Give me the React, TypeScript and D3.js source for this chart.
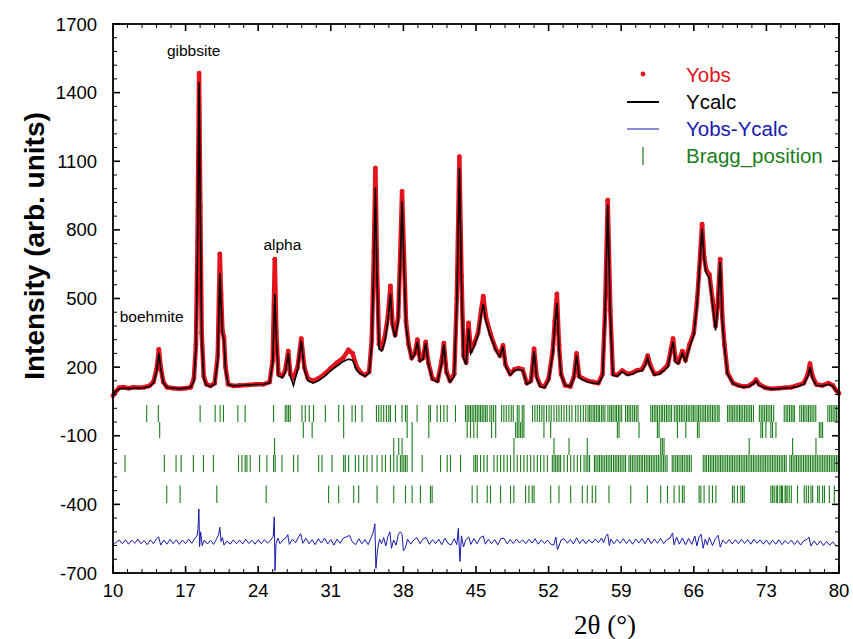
import * as d3 from "d3";
import React from "react";

// Rietveld plot: observed / calculated profile (2theta in degrees, intensity)
const twoTheta = [
  10.0, 10.3, 10.6, 11.0, 11.5, 12.0, 12.5, 13.0, 13.5, 13.9, 14.2, 14.42, 14.6, 14.85, 15.2, 15.8, 16.4, 17.0, 17.5, 17.8,
  18.0, 18.15, 18.3, 18.42, 18.55, 18.75, 19.0, 19.4, 19.8, 20.1, 20.3, 20.42, 20.55, 20.7, 20.85, 21.1, 21.6, 22.2, 23.0, 23.8,
  24.5, 25.1, 25.4, 25.6, 25.75, 25.95, 26.3, 26.6, 26.9, 27.1, 27.4, 27.8, 28.15, 28.45, 28.8, 29.3, 29.8, 30.4, 31.0, 31.6,
  32.2, 32.7, 33.1, 33.5, 33.9, 34.3, 34.7, 34.95, 35.15, 35.3, 35.45, 35.65, 35.9, 36.2, 36.5, 36.75, 36.95, 37.2, 37.5, 37.7,
  37.87, 38.05, 38.25, 38.5, 38.8, 39.1, 39.35, 39.6, 39.9, 40.15, 40.4, 40.8, 41.3, 41.7, 41.9, 42.15, 42.5, 42.9, 43.15, 43.4,
  43.6, 43.8, 44.05, 44.28, 44.5, 44.8, 45.2, 45.5, 45.7, 45.95, 46.4, 46.9, 47.3, 47.6, 47.85, 48.3, 48.7, 49.1, 49.5, 49.9,
  50.3, 50.6, 50.85, 51.2, 51.6, 52.0, 52.4, 52.6, 52.8, 53.0, 53.2, 53.6, 54.1, 54.45, 54.7, 54.95, 55.3, 55.8, 56.3, 56.8,
  57.2, 57.45, 57.7, 57.95, 58.2, 58.6, 59.1, 59.6, 60.1, 60.5, 61.0, 61.3, 61.55, 61.8, 62.2, 62.7, 63.1, 63.5, 63.8, 64.0,
  64.25, 64.5, 64.9, 65.2, 65.6, 66.0, 66.3, 66.5, 66.8, 67.0, 67.2, 67.5, 67.8, 68.1, 68.3, 68.54, 68.75, 68.95, 69.25, 69.8,
  70.3, 70.8, 71.3, 71.7, 72.0, 72.3, 72.9, 73.5, 74.2, 74.8, 75.4, 76.0, 76.6, 77.0, 77.2, 77.45, 77.8, 78.4, 79.0, 79.4,
  79.7, 80.0,
];
const yObs = [
  75, 95, 110, 112, 108, 112, 110, 112, 118, 135, 190, 278, 200, 135, 112, 108, 105, 108, 112, 150,
  300, 750, 1485, 900, 350, 160, 125, 118, 130, 250, 695, 520, 360, 330, 200, 125, 118, 120, 122, 125,
  125, 135, 230, 672, 350, 170, 160, 185, 270, 170, 150, 200, 325, 200, 150, 140, 150, 170, 195, 220,
  240, 275, 260, 200, 175, 165, 180, 320, 700, 1070, 650, 300, 280, 330, 420, 555, 390, 340, 420, 700,
  968, 700, 400, 300, 240, 260, 320, 230, 240, 310, 220, 150, 140, 230, 305, 180, 140, 170, 500, 1120,
  600, 250, 220, 393, 270, 300, 350, 450, 510, 420, 345, 280, 250, 295, 210, 170, 190, 195, 190, 130,
  140, 280, 160, 120, 115, 150, 270, 400, 520, 300, 170, 120, 115, 160, 260, 160, 150, 140, 135, 130,
  170, 450, 930, 450, 170, 165, 185, 170, 175, 185, 190, 215, 250, 210, 170, 175, 190, 210, 280, 325,
  230, 220, 270, 230, 300, 350, 480, 610, 825, 680, 625, 605, 495, 380, 470, 672, 420, 300, 175, 130,
  120, 115, 118, 130, 145, 125, 110, 105, 108, 110, 112, 120, 130, 170, 215, 160, 125, 120, 130, 120,
  100, 85,
];
const yCalc = [
  80, 95, 105, 108, 106, 108, 108, 110, 115, 130, 180, 262, 195, 132, 112, 108, 106, 108, 112, 140,
  280, 700, 1445, 880, 330, 150, 122, 115, 125, 230, 610, 480, 345, 320, 190, 125, 118, 120, 122, 124,
  125, 130, 220, 520, 320, 160, 155, 175, 260, 160, 120, 190, 315, 190, 140, 130, 140, 160, 185, 205,
  225, 235, 230, 185, 170, 160, 175, 300, 650, 985, 600, 280, 270, 310, 400, 520, 380, 330, 400, 650,
  925, 650, 380, 295, 235, 255, 310, 225, 235, 305, 215, 145, 135, 220, 300, 175, 135, 160, 480, 1070,
  560, 240, 210, 370, 260, 290, 340, 430, 475, 400, 335, 275, 245, 290, 205, 165, 185, 190, 185, 125,
  135, 270, 150, 115, 110, 140, 260, 380, 480, 280, 165, 120, 115, 155, 250, 155, 145, 135, 130, 128,
  160, 430, 910, 430, 165, 160, 180, 165, 170, 180, 185, 205, 240, 200, 165, 170, 185, 200, 270, 310,
  220, 215, 260, 225, 290, 340, 470, 600, 805, 670, 610, 590, 480, 360, 460, 660, 400, 290, 170, 128,
  118, 112, 115, 125, 140, 120, 108, 105, 106, 108, 110, 115, 125, 160, 200, 150, 120, 118, 125, 118,
  98, 85,
];

// difference curve Yobs - Ycalc (shifted)
const diffTheta = [
  10.0, 10.3, 10.6, 10.9, 11.2, 11.5, 11.8, 12.1, 12.4, 12.7, 13.0, 13.3, 13.6, 13.9, 14.2, 14.4, 14.6, 14.9, 15.2, 15.5,
  15.8, 16.1, 16.4, 16.7, 17.0, 17.3, 17.6, 17.9, 18.1, 18.2, 18.28, 18.35, 18.45, 18.6, 18.8, 19.1, 19.4, 19.7, 20.0, 20.2,
  20.3, 20.42, 20.55, 20.7, 21.0, 21.3, 21.6, 21.9, 22.2, 22.5, 22.8, 23.1, 23.4, 23.7, 24.0, 24.3, 24.6, 24.9, 25.2, 25.45,
  25.55, 25.62, 25.72, 25.9, 26.1, 26.4, 26.7, 26.85, 27.0, 27.3, 27.6, 27.9, 28.1, 28.3, 28.6, 28.9, 29.2, 29.5, 29.8, 30.1,
  30.4, 30.7, 31.0, 31.3, 31.6, 31.9, 32.2, 32.5, 32.8, 33.1, 33.4, 33.7, 34.0, 34.3, 34.6, 34.9, 35.1, 35.25, 35.35, 35.5,
  35.7, 35.9, 36.1, 36.3, 36.5, 36.7, 36.85, 37.05, 37.3, 37.5, 37.7, 37.87, 38.0, 38.2, 38.4, 38.7, 39.0, 39.3, 39.6, 39.9,
  40.2, 40.5, 40.8, 41.1, 41.4, 41.7, 42.0, 42.3, 42.6, 42.9, 43.15, 43.3, 43.45, 43.6, 43.8, 44.0, 44.3, 44.5, 44.8, 45.1,
  45.4, 45.7, 45.9, 46.2, 46.5, 46.8, 47.1, 47.4, 47.7, 48.0, 48.3, 48.6, 48.9, 49.2, 49.5, 49.8, 50.1, 50.4, 50.7, 51.0,
  51.3, 51.6, 51.9, 52.2, 52.5, 52.7, 52.85, 53.0, 53.2, 53.5, 53.8, 54.1, 54.4, 54.7, 55.0, 55.3, 55.6, 55.9, 56.2, 56.5,
  56.8, 57.1, 57.3, 57.5, 57.7, 57.85, 58.0, 58.3, 58.6, 58.9, 59.2, 59.5, 59.8, 60.1, 60.4, 60.7, 61.0, 61.3, 61.6, 61.9,
  62.2, 62.5, 62.8, 63.1, 63.4, 63.7, 63.95, 64.1, 64.35, 64.6, 64.9, 65.2, 65.5, 65.8, 66.1, 66.3, 66.5, 66.7, 66.9, 67.1,
  67.3, 67.5, 67.8, 68.1, 68.35, 68.55, 68.8, 69.1, 69.4, 69.7, 70.0, 70.3, 70.6, 70.9, 71.2, 71.5, 71.8, 72.1, 72.4, 72.7,
  73.0, 73.3, 73.6, 73.9, 74.2, 74.5, 74.8, 75.1, 75.4, 75.7, 76.0, 76.3, 76.6, 76.9, 77.1, 77.3, 77.6, 77.9, 78.2, 78.5,
  78.8, 79.1, 79.4, 79.7, 80.0,
];
const yDiff = [
  -578, -566, -556, -572, -555, -574, -556, -570, -552, -572, -558, -576, -555, -572, -550, -542, -578, -556, -574, -553,
  -572, -555, -575, -556, -572, -552, -570, -548, -538, -505, -420, -585, -520, -580, -556, -573, -557, -575, -550, -530,
  -500, -562, -545, -578, -560, -574, -555, -572, -556, -573, -553, -571, -557, -574, -555, -572, -554, -570, -556, -540,
  -455, -690, -572, -548, -572, -555, -545, -532, -575, -552, -568, -542, -528, -570, -548, -572, -554, -576, -550, -569,
  -547, -573, -554, -578, -552, -570, -548, -542, -536, -566, -576, -550, -572, -554, -576, -545, -520, -485, -680, -600,
  -552, -572, -545, -582, -542, -520, -592, -556, -578, -533, -520, -530, -602, -590, -552, -574, -555, -545, -572, -551,
  -545, -575, -554, -572, -552, -576, -548, -571, -577, -550, -576, -505, -650, -538, -586, -556, -542, -575, -550, -572,
  -546, -538, -574, -552, -572, -554, -577, -550, -548, -572, -554, -571, -552, -569, -555, -572, -553, -569, -550, -574,
  -555, -571, -556, -574, -578, -543, -598, -582, -556, -550, -570, -554, -573, -546, -571, -553, -572, -554, -569, -551,
  -568, -547, -568, -540, -530, -580, -552, -572, -553, -570, -550, -571, -554, -574, -551, -569, -550, -572, -547, -572,
  -552, -570, -549, -572, -554, -548, -525, -577, -543, -574, -547, -577, -549, -575, -538, -582, -543, -530, -592, -552,
  -577, -545, -580, -549, -535, -587, -556, -572, -554, -573, -555, -572, -553, -571, -554, -574, -552, -570, -555, -574,
  -556, -576, -557, -574, -555, -576, -558, -572, -556, -576, -558, -578, -559, -554, -543, -582, -560, -578, -560, -580,
  -562, -579, -564, -582, -580,
];

// Bragg reflection positions, one list per row of ticks
const braggRow1 = [
  13.25, 14.37, 18.4, 19.85, 20.33, 20.65, 22.04, 22.74, 25.48, 26.61, 26.77, 26.93, 27.09, 28.22, 28.54, 28.92, 29.34, 30.47, 31.76, 32.24,
  33.05, 33.37, 34.01, 35.4, 35.62, 35.85, 36.1, 36.36, 36.59, 36.75, 37.23, 37.87, 38.2, 38.36, 39.32, 40.45, 40.61, 41.25, 41.58, 41.9,
  42.22, 43.02, 43.99, 44.15, 44.31, 44.47, 44.63, 44.79, 44.96, 45.12, 45.28, 45.44, 45.6, 45.76, 45.93, 46.08, 46.34, 46.52, 46.7, 46.9,
  47.47, 47.69, 47.92, 48.17, 48.4, 48.59, 48.98, 49.15, 49.46, 49.62, 50.45, 50.68, 50.91, 51.13, 51.35, 51.55, 51.8, 52.04, 52.25, 52.52,
  52.78, 53.0, 53.23, 53.48, 53.74, 54.0, 54.25, 54.61, 54.84, 55.09, 55.35, 55.58, 55.8, 55.96, 56.1, 56.29, 56.44, 56.61, 56.78, 56.92,
  57.11, 57.26, 57.43, 57.72, 57.9, 58.06, 58.22, 58.41, 58.55, 58.73, 58.88, 59.05, 59.42, 59.6, 59.76, 59.92, 60.11, 60.28, 60.45, 60.62,
  61.86, 62.02, 62.19, 62.35, 62.5, 62.68, 62.86, 63.0, 63.18, 63.36, 63.52, 63.7, 63.86, 64.12, 64.3, 64.45, 64.63, 64.8, 64.95, 65.13,
  65.3, 65.46, 65.62, 65.81, 65.96, 66.12, 66.31, 66.46, 66.62, 66.8, 66.97, 67.12, 67.3, 67.46, 67.63, 67.8, 67.96, 68.12, 68.31, 68.44,
  69.26, 69.42, 69.59, 69.75, 69.9, 70.08, 70.24, 70.41, 70.56, 70.72, 70.9, 71.06, 71.23, 71.4, 71.56, 71.75, 72.32, 72.5, 72.66, 72.83,
  73.0, 73.16, 73.34, 73.5, 73.7, 74.72, 74.9, 75.06, 75.23, 75.4, 75.56, 75.7, 76.22, 76.4, 76.57, 76.72, 76.9, 77.06, 77.23, 77.4,
  77.58, 77.76, 78.92, 79.1, 79.26, 79.43, 79.6, 79.76, 79.92,
];
const braggRow2 = [
  14.5, 28.35, 29.2, 32.24, 38.36, 38.84, 40.45, 44.15, 44.47, 44.79, 45.12, 46.5, 46.9, 48.82, 48.98, 49.14, 49.3, 49.46, 49.62, 51.55,
  52.2, 58.63, 58.79, 60.72, 62.49, 62.65, 64.42, 65.23, 66.35, 66.51, 72.47, 72.63, 72.95, 73.43, 73.59, 73.92, 78.1, 78.26, 78.42,
];
const braggRow3 = [25.58, 37.07, 37.55, 37.87, 38.84, 48.66, 52.52, 53.97, 55.73, 62.81, 62.97, 63.13, 71.34, 75.53, 77.78];
const braggRow4 = [
  11.16, 14.95, 16.08, 16.57, 17.75, 18.72, 19.68, 22.1, 22.43, 22.74, 22.91, 23.23, 24.13, 24.84, 25.48, 25.64, 26.29, 27.41, 27.83, 29.83,
  30.15, 31.12, 32.24, 32.4, 32.72, 33.37, 33.69, 34.17, 34.49, 34.98, 35.46, 35.94, 36.27, 36.75, 37.07, 37.39, 37.71, 37.87, 38.04, 38.2,
  38.36, 38.84, 39.81, 41.58, 42.22, 42.54, 43.51, 44.79, 44.96, 45.12, 45.44, 45.76, 46.08, 46.73, 47.05, 47.37, 47.69, 48.01, 48.33, 48.66,
  48.98, 49.3, 49.62, 49.94, 50.27, 50.59, 50.91, 51.23, 51.55, 51.88, 52.36, 52.52, 52.68, 52.84, 53.0, 53.16, 53.48, 53.81, 54.13, 54.45,
  54.77, 55.09, 55.42, 55.62, 55.79, 55.95, 56.42, 56.57, 56.75, 56.91, 57.08, 57.24, 57.41, 57.58, 57.74, 57.91, 58.07, 58.26, 58.42, 58.58,
  58.74, 58.91, 59.08, 59.26, 59.42, 59.75, 59.91, 60.08, 60.24, 60.42, 60.59, 60.75, 60.92, 61.07, 61.25, 61.41, 61.58, 61.74, 61.91, 62.08,
  62.24, 62.42, 62.58, 62.75, 62.91, 63.08, 63.24, 63.42, 63.92, 64.08, 64.26, 64.42, 64.58, 64.76, 64.91, 65.08, 65.26, 65.42, 65.58, 65.76,
  66.91, 67.08, 67.24, 67.42, 67.59, 67.75, 67.91, 68.08, 68.25, 68.42, 68.58, 68.74, 68.91, 69.08, 69.25, 69.42, 69.58, 69.74, 69.91, 70.08,
  70.25, 70.41, 70.58, 70.75, 70.91, 71.08, 71.24, 71.42, 71.58, 71.75, 71.91, 72.08, 72.25, 72.41, 72.58, 72.75, 72.91, 73.08, 73.25, 73.42,
  73.58, 73.75, 73.91, 74.08, 74.25, 74.42, 74.58, 74.75, 74.91, 75.26, 75.42, 75.58, 75.75, 75.91, 76.08, 76.25, 76.41, 76.58, 76.75, 76.91,
  77.08, 77.25, 77.42, 77.58, 77.75, 77.91, 78.08, 78.25, 78.42, 78.58, 78.75, 78.91, 79.08, 79.25, 79.42, 79.58, 79.75, 79.91,
];
const braggRow5 = [
  15.18, 16.47, 20.01, 24.77, 30.79, 31.76, 33.21, 33.69, 35.46, 37.07, 38.2, 38.84, 39.64, 40.61, 40.77, 44.63, 45.11, 46.08, 46.4, 47.37,
  48.33, 48.65, 49.78, 50.1, 50.42, 50.6, 52.2, 53.0, 54.13, 55.25, 55.73, 56.21, 56.54, 57.82, 59.92, 61.52, 62.81, 63.46, 64.1, 64.59,
  64.9, 65.07, 66.51, 66.68, 66.99, 67.48, 67.8, 68.13, 69.73, 69.9, 70.21, 70.54, 70.7, 70.86, 73.43, 73.6, 73.75, 73.95, 74.08, 74.3,
  74.45, 74.56, 74.8, 74.88, 75.0, 75.2, 75.4, 76.0, 76.65, 76.85, 77.05, 77.3, 77.46, 77.94, 78.1, 78.42, 78.6, 79.07, 79.55,
];

const xTicks = [10, 17, 24, 31, 38, 45, 52, 59, 66, 73, 80];
const yTicks = [-700, -400, -100, 200, 500, 800, 1100, 1400, 1700];

const peakNames = ["gibbsite", "alpha", "boehmite"];
const peakNameTheta = [15.2, 24.5, 10.65];
const peakNameIntensity = [1560, 712, 397];

const legendNames = ["Yobs", "Ycalc", "Yobs-Ycalc", "Bragg_position"];

const RED = "#e3141c";
const BLUE = "#1818b0";
const GREEN = "#1b7d1b";
const FONT = "'Liberation Sans', Arial, Helvetica, sans-serif";

export default function App() {
  const x = d3.scaleLinear().domain([10, 80]).range([113, 839]);
  const y = d3.scaleLinear().domain([-700, 1700]).range([573, 24]);

  const profile = (vals: number[], xs: number[]) =>
    d3
      .line<number>()
      .x((_, i) => x(xs[i]))
      .y((d) => y(d))(vals) || "";

  // tick rows for Bragg reflections: [top, bottom] in intensity units
  const rows: [number[], number, number][] = [
    [braggRow1, 34, -40],
    [braggRow2, -40, -110],
    [braggRow3, -110, -184],
    [braggRow4, -184, -258],
    [braggRow5, -318, -394],
  ];

  const xMinor = d3.range(10, 80.01, 1.4);
  const yMinor = d3.range(-700, 1700.1, 60);
  const left = x.range()[0], right = x.range()[1];
  const top = y.range()[1], bottom = y.range()[0];

  return (
    <svg
      width={853}
      height={639}
      style={{ position: "absolute", left: 0, top: 0, background: "#fff" }}
      fontFamily={FONT}
    >
      {/* Bragg positions */}
      {rows.map(([ticks, t, b], r) =>
        ticks.map((p, i) => (
          <line
            key={`b${r}-${i}`}
            x1={x(p)}
            x2={x(p)}
            y1={y(t)}
            y2={y(b)}
            stroke={GREEN}
            strokeWidth={1.1}
          />
        ))
      )}

      {/* difference */}
      <path d={profile(yDiff, diffTheta)} fill="none" stroke={BLUE} strokeWidth={1} />

      {/* observed */}
      <path d={profile(yObs, twoTheta)} fill="none" stroke={RED} strokeWidth={4.5} strokeLinejoin="round" />
      {yObs.map((v, i) => (
        <circle key={`o${i}`} cx={x(twoTheta[i])} cy={y(v)} r={2.4} fill={RED} />
      ))}

      {/* calculated */}
      <path d={profile(yCalc, twoTheta)} fill="none" stroke="#000" strokeWidth={1.6} />

      {/* frame and ticks */}
      <rect x={left} y={top} width={right - left} height={bottom - top} fill="none" stroke="#000" strokeWidth={1.8} />
      {xMinor.map((v, i) => {
        const major = xTicks.some((t) => Math.abs(t - v) < 0.01);
        const len = major ? 7 : 4;
        return (
          <g key={`xm${i}`} stroke="#000" strokeWidth={major ? 1.6 : 1}>
            <line x1={x(v)} x2={x(v)} y1={bottom} y2={bottom - len} />
            <line x1={x(v)} x2={x(v)} y1={top} y2={top + len} />
          </g>
        );
      })}
      {yMinor.map((v, i) => {
        const major = yTicks.some((t) => Math.abs(t - v) < 0.01);
        const len = major ? 7 : 4;
        return (
          <g key={`ym${i}`} stroke="#000" strokeWidth={major ? 1.6 : 1}>
            <line x1={left} x2={left + len} y1={y(v)} y2={y(v)} />
            <line x1={right} x2={right - len} y1={y(v)} y2={y(v)} />
          </g>
        );
      })}
      {xTicks.map((t) => (
        <text key={`xt${t}`} x={x(t)} y={597} fontSize={18.5} textAnchor="middle" fill="#000">
          {t}
        </text>
      ))}
      {yTicks.map((t) => (
        <text key={`yt${t}`} x={97} y={y(t) + 6.5} fontSize={18.5} textAnchor="end" fill="#000">
          {t}
        </text>
      ))}

      {/* axis titles */}
      <text
        transform="translate(44,246) rotate(-90)"
        fontSize={28}
        fontWeight="bold"
        textAnchor="middle"
        fill="#000"
      >
        Intensity (arb. units)
      </text>
      <text x={605} y={634} fontSize={27} textAnchor="middle" fontFamily="'Liberation Serif', 'Times New Roman', serif">
        2θ (°)
      </text>

      {/* phase annotations */}
      {peakNames.map((n, i) => (
        <text key={n} x={x(peakNameTheta[i])} y={y(peakNameIntensity[i])} fontSize={15.5} fill="#000">
          {n}
        </text>
      ))}

      {/* legend */}
      <g>
        <circle cx={643} cy={74} r={2.4} fill={RED} />
        <line x1={627} x2={659} y1={102} y2={102} stroke="#000" strokeWidth={2} />
        <line x1={627} x2={659} y1={129} y2={129} stroke={BLUE} strokeWidth={1} />
        <line x1={643} x2={643} y1={147} y2={165} stroke={GREEN} strokeWidth={1.2} />
        {legendNames.map((n, i) => (
          <text
            key={n}
            x={686}
            y={82 + i * 27}
            fontSize={20.5}
            fill={[RED, "#000", BLUE, GREEN][i]}
          >
            {n}
          </text>
        ))}
      </g>
    </svg>
  );
}
